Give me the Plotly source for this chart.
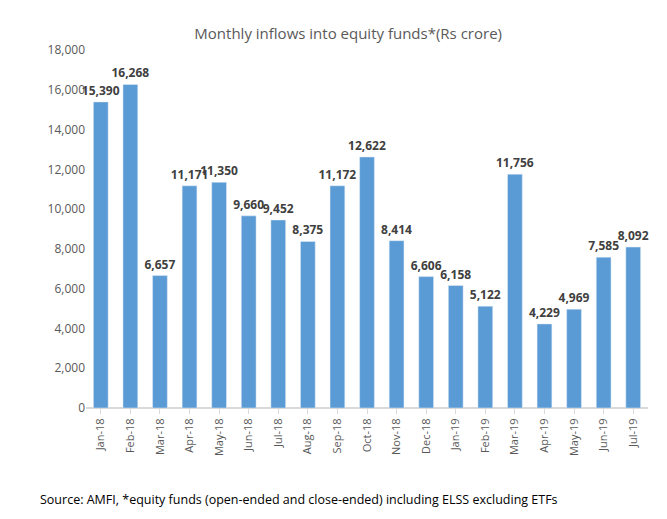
import plotly.graph_objects as go

months = ["Jan-18", "Feb-18", "Mar-18", "Apr-18", "May-18", "Jun-18", "Jul-18", "Aug-18",
          "Sep-18", "Oct-18", "Nov-18", "Dec-18", "Jan-19", "Feb-19", "Mar-19", "Apr-19",
          "May-19", "Jun-19", "Jul-19"]
inflows = [15390, 16268, 6657, 11171, 11350, 9660, 9452, 8375, 11172, 12622, 8414, 6606,
           6158, 5122, 11756, 4229, 4969, 7585, 8092]

fig = go.Figure()
fig.add_trace(go.Bar(
    x=months, y=inflows,
    marker_color="#5B9BD5",
    width=0.5,
    text=[f"<b>{v:,}</b>" for v in inflows],
    textposition="outside",
    constraintext="none",
    textfont=dict(size=12, color="#404040", family="Open Sans"),
    cliponaxis=False,
))

fig.update_layout(
    width=667, height=519,
    margin=dict(l=78, r=27, t=42, b=119),
    paper_bgcolor="white", plot_bgcolor="white",
    font=dict(family="Open Sans", color="#595959", size=11),
    title=dict(text="Monthly inflows into equity funds*(Rs crore)", x=0.51, y=0.96,
               xanchor="center", font=dict(size=15, color="#595959")),
    showlegend=False,
    bargap=0.5,
)
fig.update_yaxes(range=[0, 18000], dtick=2000, tickformat=",", showgrid=False,
                 showline=False, zeroline=True, zerolinecolor="#d9d9d9",
                 ticks="", tickfont=dict(size=12))
fig.update_xaxes(tickangle=-90, showline=True, linecolor="#d9d9d9", ticks="outside",
                 ticklen=5, tickcolor="#d9d9d9", tickfont=dict(size=11))

fig.add_annotation(text="Source: AMFI, *equity funds (open-ended and close-ended) including ELSS excluding ETFs",
                   xref="paper", yref="paper", x=-0.085, y=-0.255, xanchor="left",
                   yanchor="middle", showarrow=False, font=dict(size=12.5, color="black"))

fig.write_html("out.html")
